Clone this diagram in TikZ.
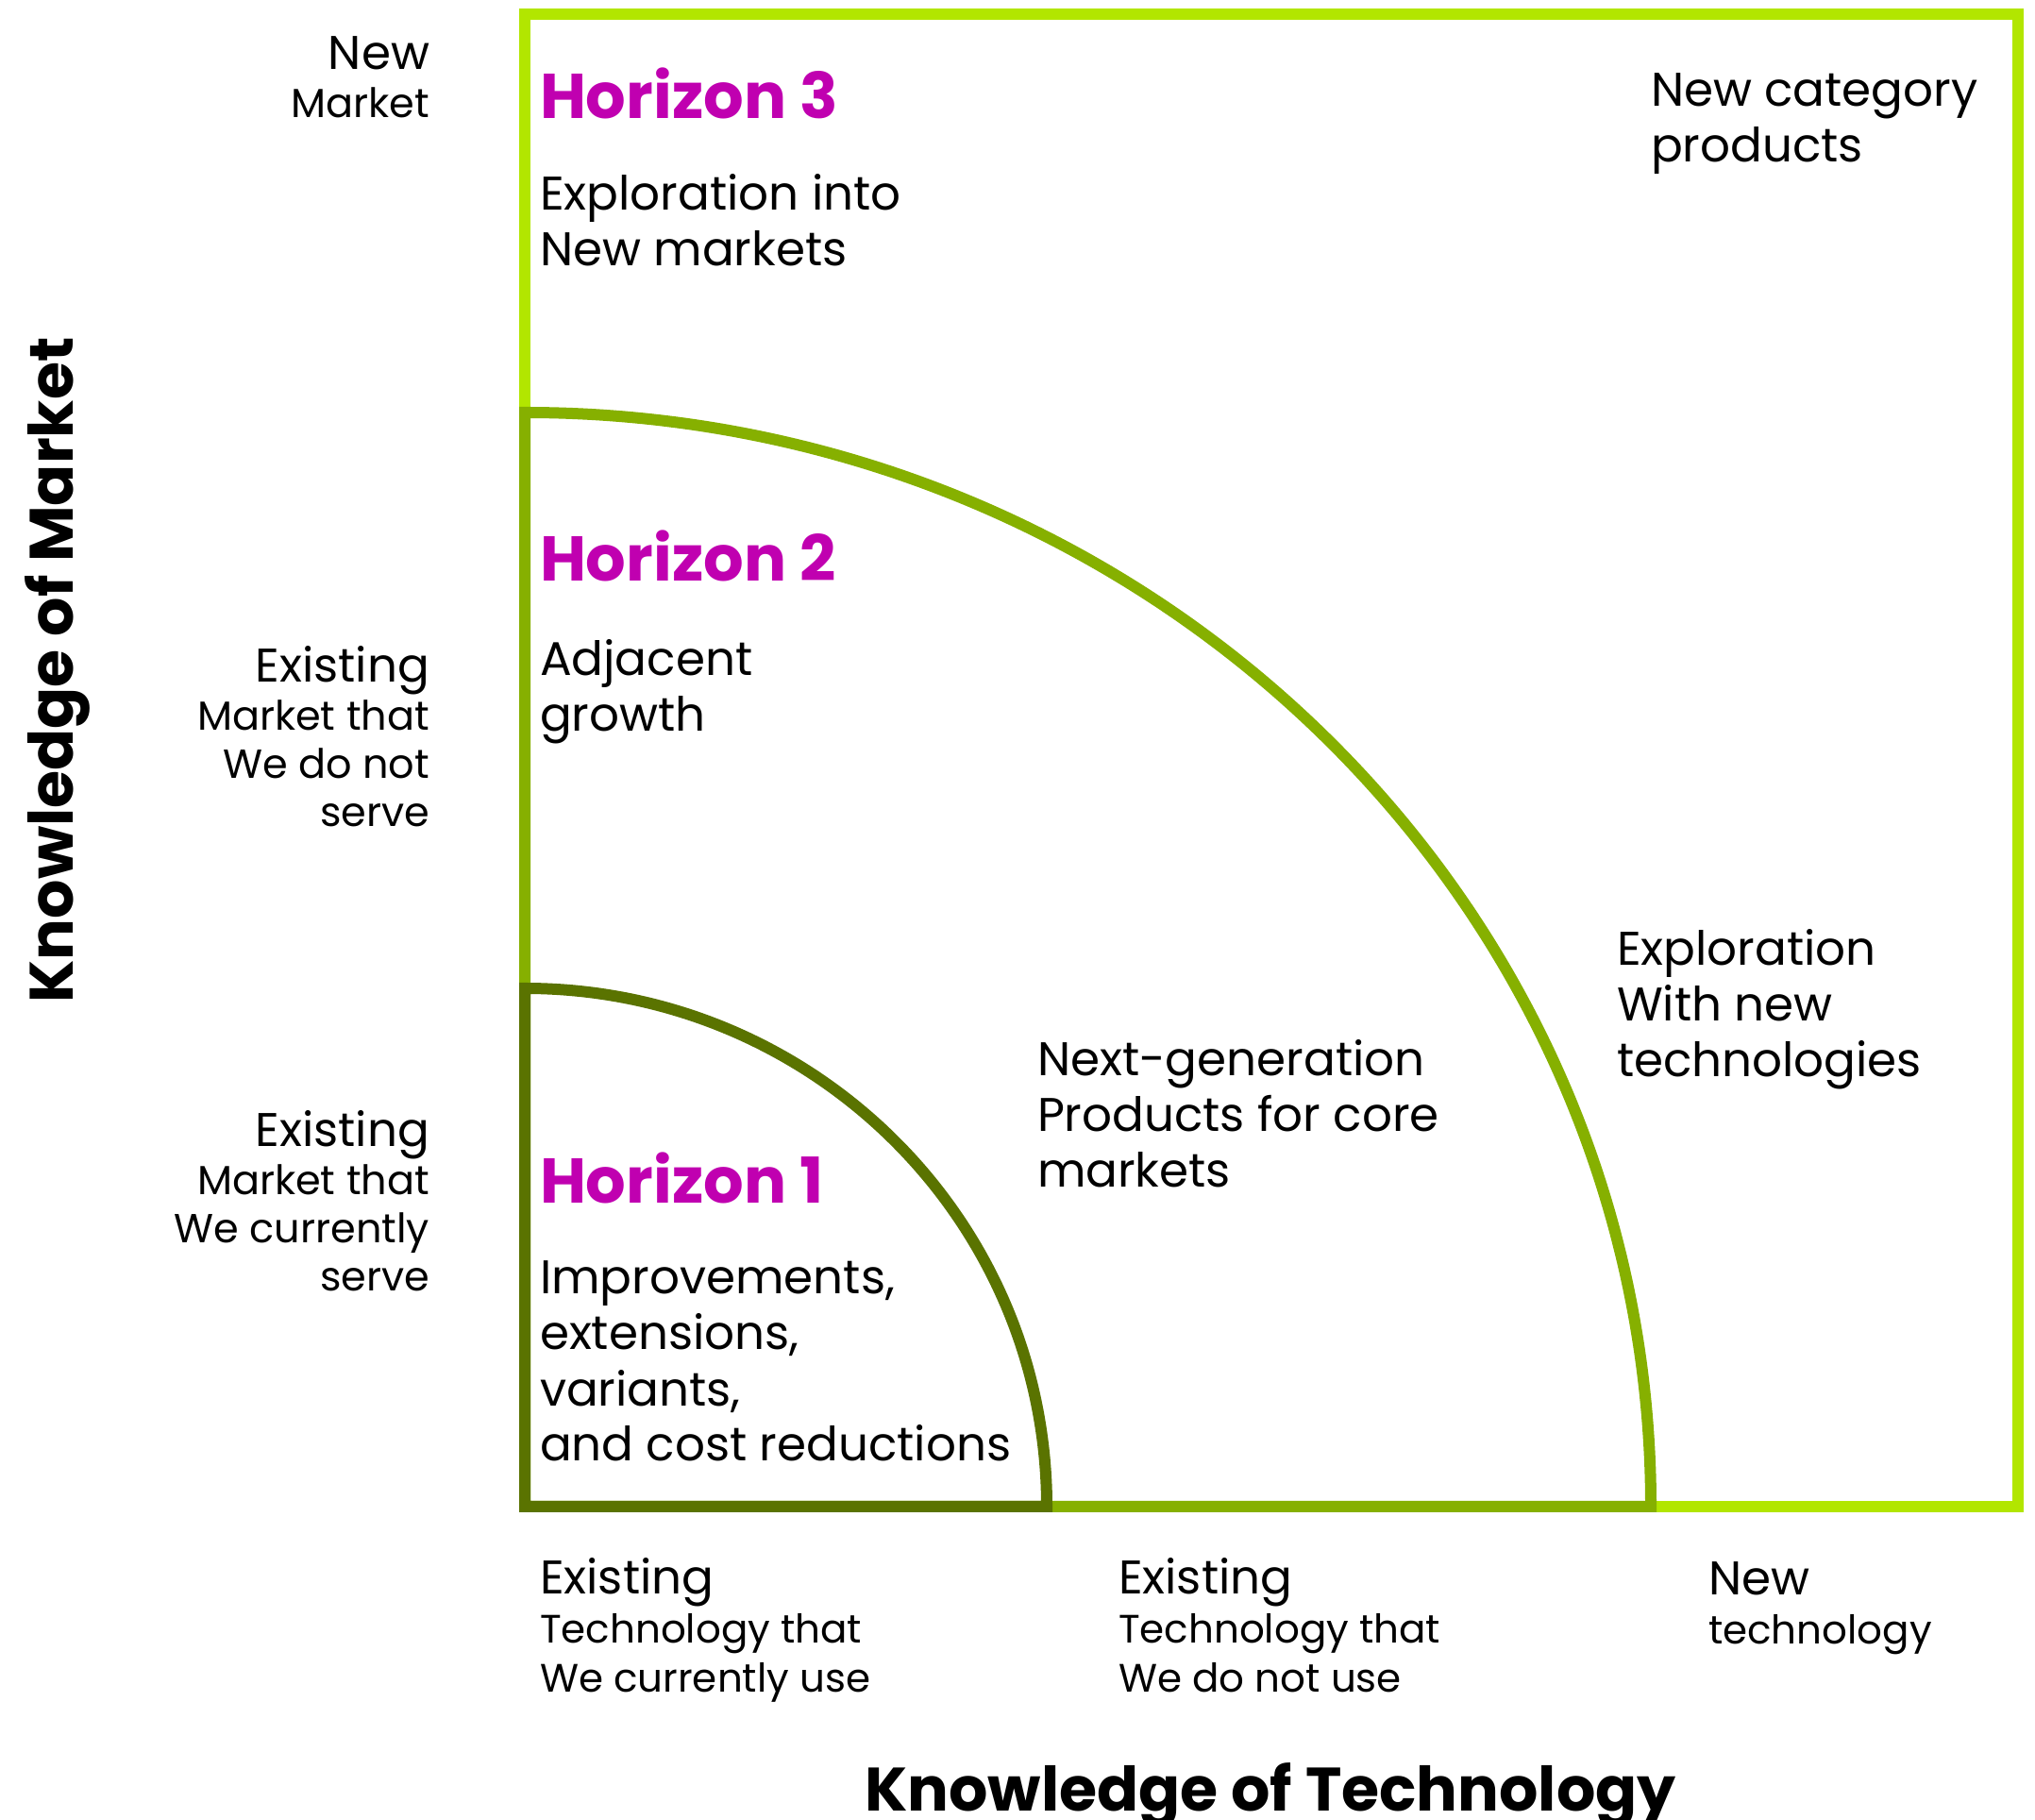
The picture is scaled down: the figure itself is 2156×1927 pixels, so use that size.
\documentclass[tikz,border=0pt]{standalone}
\usepackage{fontspec}
\setmainfont{Poppins}
\definecolor{hlime}{HTML}{B2E600}
\definecolor{hmid}{HTML}{86B000}
\definecolor{hdark}{HTML}{5A7300}
\definecolor{hmag}{HTML}{C000B0}
\begin{document}
\begin{tikzpicture}[x=0.5pt,y=0.5pt,
  every node/.style={inner sep=0pt,outer sep=0pt},
  frame/.style={line width=6pt,line join=miter},
  title/.style={font=\fontsize{33.5}{40}\selectfont\bfseries,text=hmag,anchor=base west},
  % multi-line blocks are placed by the baseline of their last line
  body/.style={font=\fontsize{25}{29.5}\selectfont,align=left,anchor=base west},
  sidelabel/.style={font=\fontsize{21.5}{25.5}\selectfont,align=right,anchor=base east},
  bottomlabel/.style={font=\fontsize{21}{26}\selectfont,align=left,anchor=base west},
  lead/.style={},
  axis/.style={font=\fontsize{32.5}{40}\selectfont\bfseries,anchor=base}
]
\newcommand{\leadword}[1]{{\fontsize{25}{26}\selectfont #1}}
\useasboundingbox (0,0) rectangle (2156,1927);

% horizon outlines: outer square, middle quarter, inner quarter
\draw[frame,hlime] (556,331) rectangle (2138,1912);
\draw[frame,hmid] (556,331) -- (556,1490)
  arc[start angle=90,end angle=0,x radius=1193,y radius=1159] -- cycle;
\draw[frame,hdark] (556,331) -- (556,880)
  arc[start angle=90,end angle=0,x radius=553,y radius=549] -- cycle;

% horizon titles and descriptions
\node[title] (h3) at (572,1801) {Horizon 3};
\node[body] (h3text) at (572,1645) {Exploration into\\New markets};
\node[body] (newcat) at (1749,1755) {New category\\products};
\node[title] (h2) at (572,1311) {Horizon 2};
\node[body] (h2text) at (572,1152) {Adjacent\\growth};
\node[title] (h1) at (572,652) {Horizon 1};
\node[body] (h1text) at (572,379) {Improvements,\\extensions,\\variants,\\and cost reductions};
\node[body] (nextgen) at (1099,669) {Next-generation\\Products for core\\markets};
\node[body] (explore) at (1713,786) {Exploration\\With new\\technologies};

% market levels
\node[sidelabel] (mnew) at (455,1802) {\leadword{New}\\Market};
\node[sidelabel] (mnot) at (455,1051) {\leadword{Existing}\\Market that\\We do not\\serve};
\node[sidelabel] (mcur) at (455,559) {\leadword{Existing}\\Market that\\We currently\\serve};

% technology levels
\node[bottomlabel] (tcur) at (572,135) {\leadword{Existing}\\Technology that\\We currently use};
\node[bottomlabel] (tnot) at (1185,135) {\leadword{Existing}\\Technology that\\We do not use};
\node[bottomlabel] (tnew) at (1810,186) {\leadword{New}\\technology};

% axis titles
\node[axis] (xaxis) at (1346,9) {Knowledge of Technology};
\node[axis,rotate=90] (yaxis) at (78,1217) {Knowledge of Market};
\end{tikzpicture}
\end{document}
